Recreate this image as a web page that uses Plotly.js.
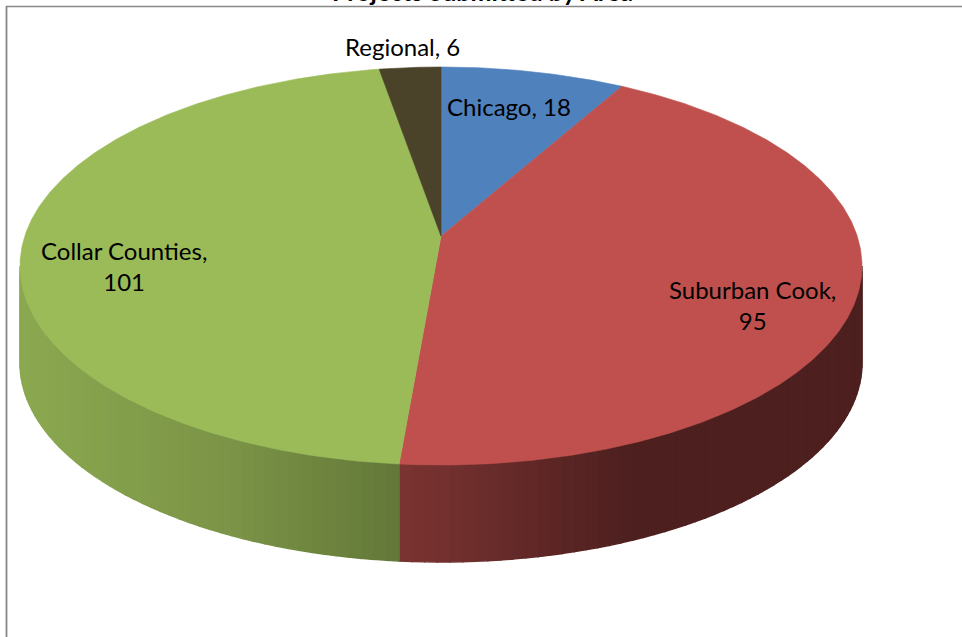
<!DOCTYPE html>
<html>
<head>
<meta charset="utf-8">
<script src="https://cdn.plot.ly/plotly-3.0.1.min.js"></script>
<style>html,body{margin:0;padding:0;background:#fff;}#chart{width:962px;height:637px;}</style>
</head>
<body>
<div id="chart"></div>
<script>
// ---- data ----
const categories = ["Chicago", "Suburban Cook", "Collar Counties", "Regional"];
const values = [18, 95, 101, 6];
const sliceColors = ["#4f81bd", "#c0504d", "#9bbb59", "#4a4229"];
const wrapLabel = [false, true, true, false];
const chartTitle = "Projects Submitted by Area";

// ---- geometry of the tilted pie (pixel-space axes) ----
const K = 0.15, CX = 441, CY = 266, RX = 421, RY = 199, DEPTH = 97;
const AU = 1 / Math.sqrt(1 - K * K), AV = 1 / (1 - K * K), V0 = -K / (1 - K * K);
function proj(deg) {
  const t = deg * Math.PI / 180;
  const den = 1 + K * Math.cos(t);
  const u = Math.sin(t) / den, v = Math.cos(t) / den;
  return [CX + RX * u / AU, CY - RY * (v - V0) / AV];
}
const centerPt = [CX, CY - RY * K];

function hexToRgb(h) {
  return [parseInt(h.slice(1, 3), 16), parseInt(h.slice(3, 5), 16), parseInt(h.slice(5, 7), 16)];
}
function shadeFactor(un) {
  const pts = [[-1, 0.90], [-0.5, 0.79], [0, 0.60], [0.45, 0.40], [1, 0.40]];
  for (let i = 0; i < pts.length - 1; i++) {
    if (un <= pts[i + 1][0]) {
      const f = (un - pts[i][0]) / (pts[i + 1][0] - pts[i][0]);
      return pts[i][1] + f * (pts[i + 1][1] - pts[i][1]);
    }
  }
  return pts[pts.length - 1][1];
}

const total = values.reduce((a, b) => a + b, 0);
const bounds = [];
let acc = 0;
values.forEach(v => { bounds.push([acc / total * 360, (acc + v) / total * 360]); acc += v; });

const wallLo = Math.acos(-K) * 180 / Math.PI;
const wallHi = 360 - wallLo;

const traces = [];
// walls (drawn as narrow shaded strips to imitate the gradient)
bounds.forEach((b, i) => {
  const a = Math.max(b[0], wallLo), e = Math.min(b[1], wallHi);
  if (e <= a) return;
  const n = Math.max(1, Math.ceil((e - a) / 1.5));
  const base = hexToRgb(sliceColors[i]);
  for (let s = 0; s < n; s++) {
    const t1 = a + (e - a) * s / n, t2 = a + (e - a) * (s + 1) / n;
    const p1 = proj(t1), p2 = proj(t2);
    const un = ((p1[0] + p2[0]) / 2 - CX) / RX;
    const f = shadeFactor(un);
    const c = `rgb(${Math.round(base[0] * f)},${Math.round(base[1] * f)},${Math.round(base[2] * f)})`;
    traces.push({
      type: "scatter", mode: "lines", fill: "toself", fillcolor: c,
      line: {color: c, width: 1.4},
      x: [p1[0], p2[0], p2[0], p1[0], p1[0]],
      y: [p1[1], p2[1], p2[1] + DEPTH, p1[1] + DEPTH, p1[1]],
      hoverinfo: "skip", showlegend: false
    });
  }
});
// top faces
bounds.forEach((b, i) => {
  const xs = [centerPt[0]], ys = [centerPt[1]];
  const n = Math.max(2, Math.ceil((b[1] - b[0]) * 2));
  for (let s = 0; s <= n; s++) {
    const p = proj(b[0] + (b[1] - b[0]) * s / n);
    xs.push(p[0]); ys.push(p[1]);
  }
  xs.push(centerPt[0]); ys.push(centerPt[1]);
  traces.push({
    type: "scatter", mode: "lines", fill: "toself", fillcolor: sliceColors[i],
    line: {color: sliceColors[i], width: 0.6},
    x: xs, y: ys, name: categories[i], hoverinfo: "skip", showlegend: false
  });
});

const labelPos = [[509, 106], [752, 305], [124, 266], [402, 46]];
const labelFont = {family: "Lato, 'Open Sans', sans-serif", size: 24, color: "#000"};
const annotations = categories.map((c, i) => ({
  x: labelPos[i][0], y: labelPos[i][1], xref: "x", yref: "y",
  text: c + "," + (wrapLabel[i] ? "<br>" : " ") + values[i],
  showarrow: false, align: "center", font: labelFont
}));
annotations.push({
  x: 482 / 962, y: 1 + 9 / 637, xref: "paper", yref: "paper", yanchor: "middle",
  text: "<b>" + chartTitle + "</b>", showarrow: false,
  font: {family: "Lato, 'Open Sans', sans-serif", size: 25, color: "#000"}
});

const layout = {
  width: 962, height: 637,
  margin: {l: 0, r: 0, t: 0, b: 0},
  paper_bgcolor: "#fff", plot_bgcolor: "#fff",
  xaxis: {range: [0, 962], visible: false, fixedrange: true},
  yaxis: {range: [637, 0], visible: false, fixedrange: true},
  showlegend: false, hovermode: false,
  annotations: annotations,
  shapes: [
    {type: "line", xref: "x", yref: "y", x0: 6, x1: 962, y0: 6.5, y1: 6.5, line: {color: "#878787", width: 1.3}},
    {type: "line", xref: "x", yref: "y", x0: 6.5, x1: 6.5, y0: 6, y1: 637, line: {color: "#878787", width: 1.8}}
  ]
};

Plotly.newPlot("chart", traces, layout, {staticPlot: true, displayModeBar: false});
</script>
</body>
</html>
